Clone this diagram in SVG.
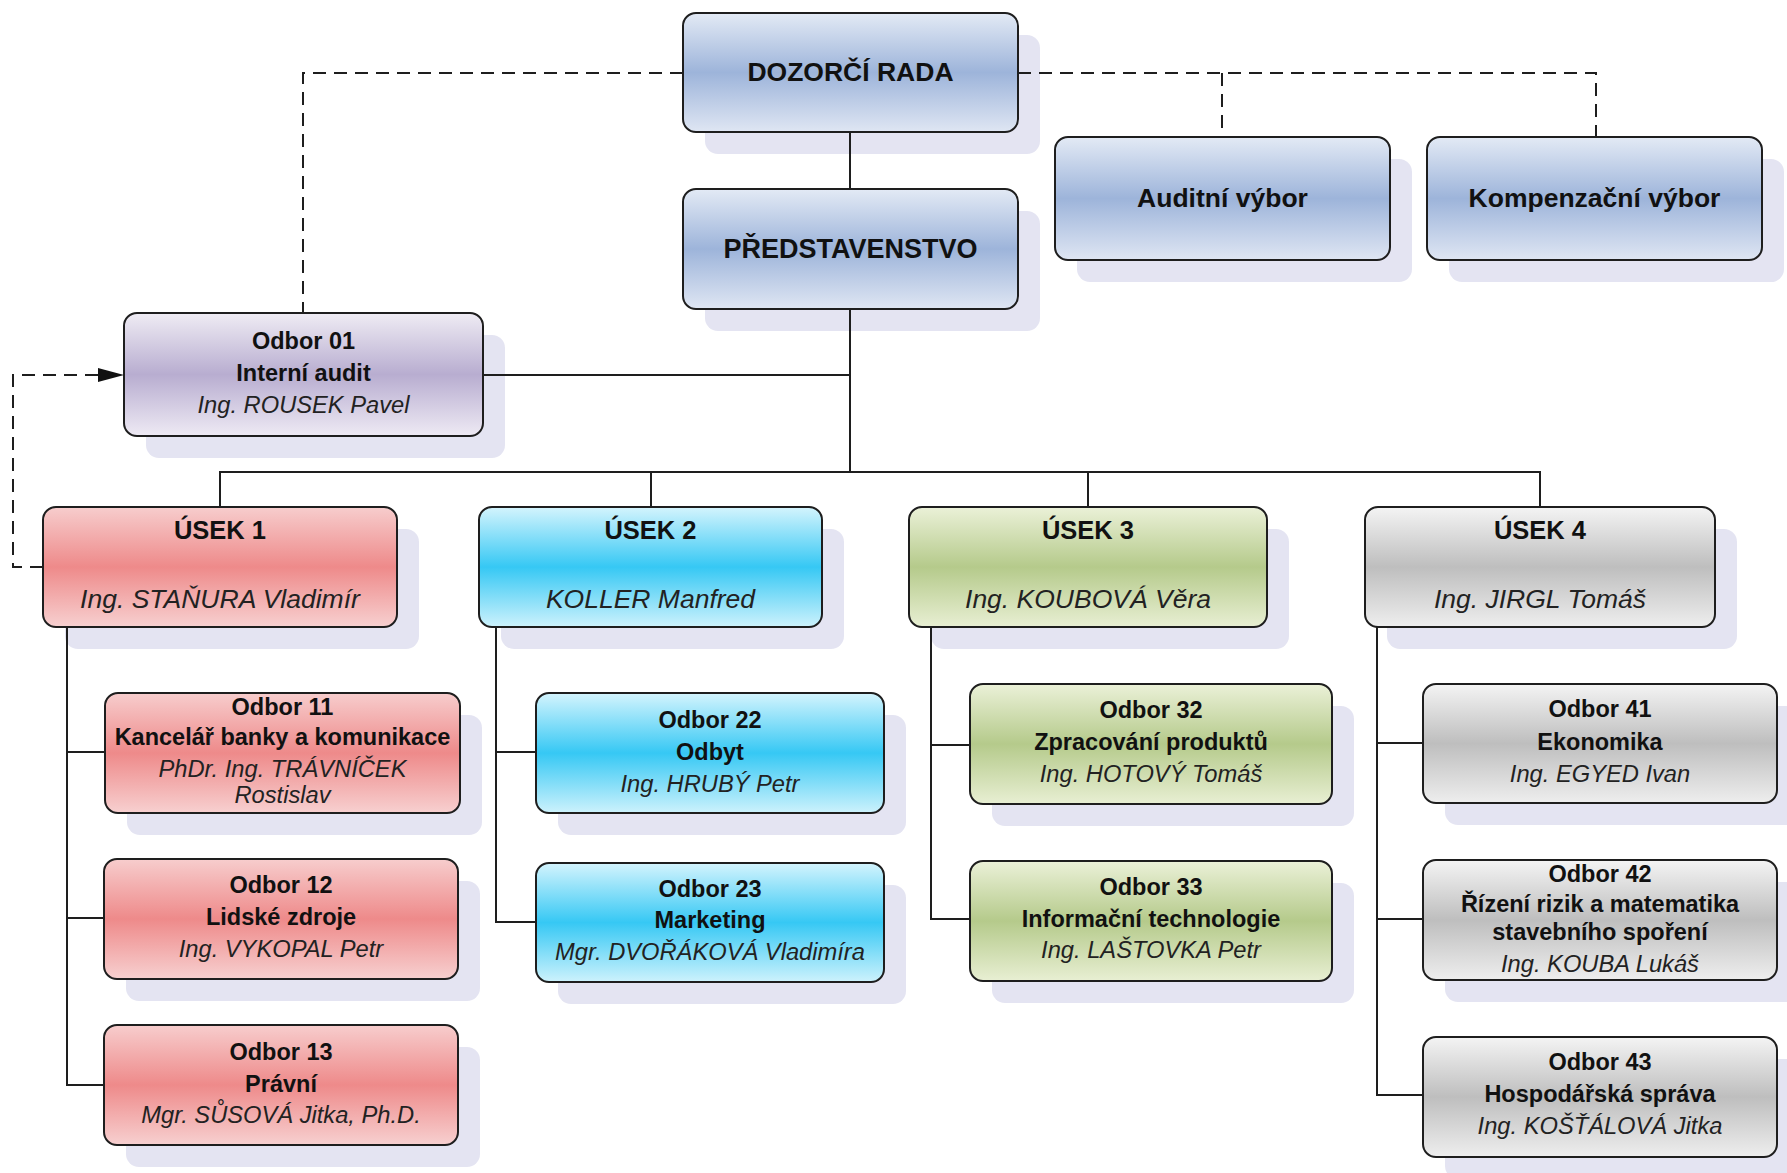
<svg xmlns="http://www.w3.org/2000/svg" width="1787" height="1173" viewBox="0 0 1787 1173">
<defs>
<linearGradient id="gBlue" x1="0" y1="0" x2="0" y2="1"><stop offset="0" stop-color="#e3eaf5"/><stop offset="0.5" stop-color="#9db4da"/><stop offset="1" stop-color="#dfe6f3"/></linearGradient>
<linearGradient id="gPurple" x1="0" y1="0" x2="0" y2="1"><stop offset="0" stop-color="#efecf4"/><stop offset="0.5" stop-color="#b8add0"/><stop offset="1" stop-color="#eeeaf4"/></linearGradient>
<linearGradient id="gRed" x1="0" y1="0" x2="0" y2="1"><stop offset="0" stop-color="#f7cdcd"/><stop offset="0.5" stop-color="#ee8a8a"/><stop offset="1" stop-color="#f7d0d0"/></linearGradient>
<linearGradient id="gCyan" x1="0" y1="0" x2="0" y2="1"><stop offset="0" stop-color="#d4f4fd"/><stop offset="0.5" stop-color="#36c8f4"/><stop offset="1" stop-color="#cdf2fc"/></linearGradient>
<linearGradient id="gGreen" x1="0" y1="0" x2="0" y2="1"><stop offset="0" stop-color="#ebf1d8"/><stop offset="0.5" stop-color="#b5ca8b"/><stop offset="1" stop-color="#e8efd3"/></linearGradient>
<linearGradient id="gGrey" x1="0" y1="0" x2="0" y2="1"><stop offset="0" stop-color="#f4f4f4"/><stop offset="0.5" stop-color="#bebebe"/><stop offset="1" stop-color="#eeeeee"/></linearGradient>
<marker id="arrow" markerWidth="26" markerHeight="14" refX="25" refY="7" orient="auto" markerUnits="userSpaceOnUse"><path d="M0,0 L26,7 L0,14 Z" fill="#111"/></marker>
<style>
.sh{fill:#e4e4f2}
.bx{stroke:#1e1e1e;stroke-width:2}
.blue{fill:url(#gBlue)}.purple{fill:url(#gPurple)}.red{fill:url(#gRed)}.cyan{fill:url(#gCyan)}.green{fill:url(#gGreen)}.grey{fill:url(#gGrey)}
text{font-family:"Liberation Sans",Arial,sans-serif;text-anchor:middle;fill:#111}
.t1{font-size:26.5px;font-weight:bold}
.tu{font-size:25.5px;font-weight:bold}
.t2{font-size:23.5px;font-weight:bold}
.nm{font-size:26.5px;font-style:italic;fill:#222}
.ni{font-size:23.7px;font-style:italic;fill:#222}
.ln{fill:none;stroke:#1e1e1e;stroke-width:2}
.ds{fill:none;stroke:#1e1e1e;stroke-width:2;stroke-dasharray:13 8}
</style>
</defs>
<rect width="1787" height="1173" fill="#ffffff"/>
<g id="shadows">
<rect class="sh" x="705" y="35" width="335" height="119" rx="13"/>
<rect class="sh" x="705" y="211" width="335" height="120" rx="13"/>
<rect class="sh" x="1077" y="159" width="335" height="123" rx="13"/>
<rect class="sh" x="1449" y="159" width="335" height="123" rx="13"/>
<rect class="sh" x="146" y="335" width="359" height="123" rx="13"/>
<rect class="sh" x="65" y="529" width="354" height="120" rx="13"/>
<rect class="sh" x="501" y="529" width="343" height="120" rx="13"/>
<rect class="sh" x="931" y="529" width="358" height="120" rx="13"/>
<rect class="sh" x="1387" y="529" width="350" height="120" rx="13"/>
<rect class="sh" x="127" y="715" width="355" height="120" rx="13"/>
<rect class="sh" x="126" y="881" width="354" height="120" rx="13"/>
<rect class="sh" x="126" y="1047" width="354" height="120" rx="13"/>
<rect class="sh" x="558" y="715" width="348" height="120" rx="13"/>
<rect class="sh" x="558" y="885" width="348" height="119" rx="13"/>
<rect class="sh" x="992" y="706" width="362" height="120" rx="13"/>
<rect class="sh" x="992" y="883" width="362" height="120" rx="13"/>
<rect class="sh" x="1445" y="706" width="354" height="119" rx="13"/>
<rect class="sh" x="1445" y="882" width="354" height="120" rx="13"/>
<rect class="sh" x="1445" y="1059" width="354" height="120" rx="13"/>
</g>
<g id="connectors">
<path class="ln" d="M850,132 V189"/>
<path class="ln" d="M850,309 V472"/>
<path class="ln" d="M483,375 H850"/>
<path class="ln" d="M220,507 V472 H1540 V507"/>
<path class="ln" d="M651,472 V507"/>
<path class="ln" d="M1088,472 V507"/>
<path class="ln" d="M67,627 V1085 H104 M67,752 H105 M67,918 H104"/>
<path class="ln" d="M496,627 V922 H536 M496,752 H536"/>
<path class="ln" d="M931,627 V919 H970 M931,745 H970"/>
<path class="ln" d="M1377,627 V1095 H1423 M1377,743 H1423 M1377,919 H1423"/>
<path class="ds" d="M683,73 H303 V313"/>
<path class="ds" d="M1018,73 H1596 V137"/>
<path class="ds" d="M1222,73 V137"/>
<path class="ds" d="M43,567 H13 V375 H123" marker-end="url(#arrow)"/>
</g>
<g id="dozorci-rada">
<rect class="bx blue" x="683" y="13" width="335" height="119" rx="13"/>
<text class="t1" x="850.5" y="81">DOZORČÍ RADA</text>
</g>
<g id="predstavenstvo">
<rect class="bx blue" x="683" y="189" width="335" height="120" rx="13"/>
<text class="t1" x="850.5" y="258" style="font-size:27px">PŘEDSTAVENSTVO</text>
</g>
<g id="auditni-vybor">
<rect class="bx blue" x="1055" y="137" width="335" height="123" rx="13"/>
<text class="t1" x="1222.5" y="207">Auditní výbor</text>
</g>
<g id="kompenzacni-vybor">
<rect class="bx blue" x="1427" y="137" width="335" height="123" rx="13"/>
<text class="t1" x="1594.5" y="207">Kompenzační výbor</text>
</g>
<g id="odbor01">
<rect class="bx purple" x="124" y="313" width="359" height="123" rx="13"/>
<text class="t2" x="303.5" y="349">Odbor 01</text>
<text class="t2" x="303.5" y="381">Interní audit</text>
<text class="ni" x="303.5" y="413">Ing. ROUSEK Pavel</text>
</g>
<g id="usek1">
<rect class="bx red" x="43" y="507" width="354" height="120" rx="13"/>
<text class="tu" x="220" y="539">ÚSEK 1</text>
<text class="nm" x="220" y="608">Ing. STAŇURA Vladimír</text>
</g>
<g id="usek2">
<rect class="bx cyan" x="479" y="507" width="343" height="120" rx="13"/>
<text class="tu" x="650.5" y="539">ÚSEK 2</text>
<text class="nm" x="650.5" y="608">KOLLER Manfred</text>
</g>
<g id="usek3">
<rect class="bx green" x="909" y="507" width="358" height="120" rx="13"/>
<text class="tu" x="1088" y="539">ÚSEK 3</text>
<text class="nm" x="1088" y="608">Ing. KOUBOVÁ Věra</text>
</g>
<g id="usek4">
<rect class="bx grey" x="1365" y="507" width="350" height="120" rx="13"/>
<text class="tu" x="1540" y="539">ÚSEK 4</text>
<text class="nm" x="1540" y="608">Ing. JIRGL Tomáš</text>
</g>
<g id="odbor11">
<rect class="bx red" x="105" y="693" width="355" height="120" rx="13"/>
<text class="t2" x="282.5" y="715">Odbor 11</text>
<text class="t2" x="282.5" y="745">Kancelář banky a komunikace</text>
<text class="ni" x="282.5" y="777">PhDr. Ing. TRÁVNÍČEK</text>
<text class="ni" x="282.5" y="803">Rostislav</text>
</g>
<g id="odbor12">
<rect class="bx red" x="104" y="859" width="354" height="120" rx="13"/>
<text class="t2" x="281" y="893">Odbor 12</text>
<text class="t2" x="281" y="925">Lidské zdroje</text>
<text class="ni" x="281" y="957">Ing. VYKOPAL Petr</text>
</g>
<g id="odbor13">
<rect class="bx red" x="104" y="1025" width="354" height="120" rx="13"/>
<text class="t2" x="281" y="1060">Odbor 13</text>
<text class="t2" x="281" y="1092">Právní</text>
<text class="ni" x="281" y="1123">Mgr. SŮSOVÁ Jitka, Ph.D.</text>
</g>
<g id="odbor22">
<rect class="bx cyan" x="536" y="693" width="348" height="120" rx="13"/>
<text class="t2" x="710" y="728">Odbor 22</text>
<text class="t2" x="710" y="760">Odbyt</text>
<text class="ni" x="710" y="792">Ing. HRUBÝ Petr</text>
</g>
<g id="odbor23">
<rect class="bx cyan" x="536" y="863" width="348" height="119" rx="13"/>
<text class="t2" x="710" y="897">Odbor 23</text>
<text class="t2" x="710" y="928">Marketing</text>
<text class="ni" x="710" y="960">Mgr. DVOŘÁKOVÁ Vladimíra</text>
</g>
<g id="odbor32">
<rect class="bx green" x="970" y="684" width="362" height="120" rx="13"/>
<text class="t2" x="1151" y="718">Odbor 32</text>
<text class="t2" x="1151" y="750">Zpracování produktů</text>
<text class="ni" x="1151" y="782">Ing. HOTOVÝ Tomáš</text>
</g>
<g id="odbor33">
<rect class="bx green" x="970" y="861" width="362" height="120" rx="13"/>
<text class="t2" x="1151" y="895">Odbor 33</text>
<text class="t2" x="1151" y="927">Informační technologie</text>
<text class="ni" x="1151" y="958">Ing. LAŠTOVKA Petr</text>
</g>
<g id="odbor41">
<rect class="bx grey" x="1423" y="684" width="354" height="119" rx="13"/>
<text class="t2" x="1600" y="717">Odbor 41</text>
<text class="t2" x="1600" y="750">Ekonomika</text>
<text class="ni" x="1600" y="782">Ing. EGYED Ivan</text>
</g>
<g id="odbor42">
<rect class="bx grey" x="1423" y="860" width="354" height="120" rx="13"/>
<text class="t2" x="1600" y="882">Odbor 42</text>
<text class="t2" x="1600" y="912">Řízení rizik a matematika</text>
<text class="t2" x="1600" y="940">stavebního spoření</text>
<text class="ni" x="1600" y="972">Ing. KOUBA Lukáš</text>
</g>
<g id="odbor43">
<rect class="bx grey" x="1423" y="1037" width="354" height="120" rx="13"/>
<text class="t2" x="1600" y="1070">Odbor 43</text>
<text class="t2" x="1600" y="1102">Hospodářská správa</text>
<text class="ni" x="1600" y="1134">Ing. KOŠŤÁLOVÁ Jitka</text>
</g>
</svg>
